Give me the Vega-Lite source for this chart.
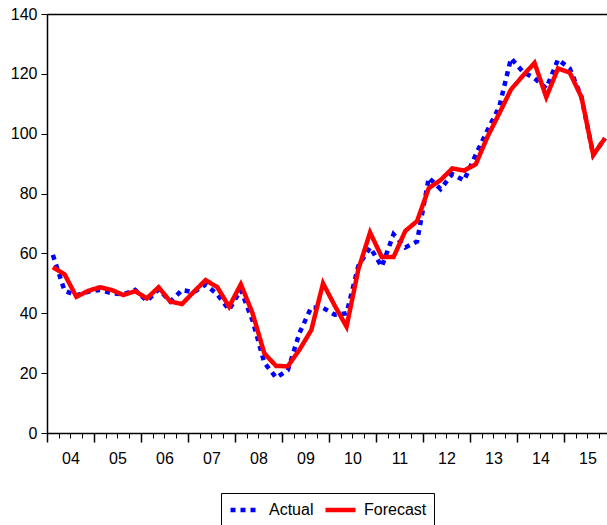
{
  "$schema": "https://vega.github.io/schema/vega-lite/v6.json",
  "autosize": {"type": "none"},
  "padding": {"left": 47, "top": 14, "right": 0, "bottom": 92},
  "width": 560,
  "height": 419,
  "background": "white",
  "config": {
    "view": {"stroke": null},
    "font": "Liberation Sans",
    "axis": {"labelFont": "Liberation Sans", "labelFontSize": 16, "labelColor": "#000", "domainColor": "#000", "tickColor": "#000", "grid": false, "title": null},
    "legend": {"labelFont": "Liberation Sans", "labelFontSize": 16, "labelColor": "#000", "layout": {"bottom": {"anchor": "middle"}}}
  },
  "data": {
    "values": [
      {"q": 0, "Actual": 59.5, "Forecast": 55.4},
      {"q": 1, "Actual": 47.5, "Forecast": 53.0},
      {"q": 2, "Actual": 46.0, "Forecast": 45.5},
      {"q": 3, "Actual": 47.2, "Forecast": 47.5},
      {"q": 4, "Actual": 47.8, "Forecast": 48.7},
      {"q": 5, "Actual": 46.7, "Forecast": 47.8},
      {"q": 6, "Actual": 46.3, "Forecast": 46.1},
      {"q": 7, "Actual": 47.8, "Forecast": 47.4},
      {"q": 8, "Actual": 44.1, "Forecast": 45.0},
      {"q": 9, "Actual": 48.0, "Forecast": 48.7},
      {"q": 10, "Actual": 43.9, "Forecast": 43.9},
      {"q": 11, "Actual": 47.8, "Forecast": 43.1},
      {"q": 12, "Actual": 47.0, "Forecast": 47.2},
      {"q": 13, "Actual": 49.6, "Forecast": 51.1},
      {"q": 14, "Actual": 46.3, "Forecast": 48.7},
      {"q": 15, "Actual": 41.2, "Forecast": 42.2},
      {"q": 16, "Actual": 47.8, "Forecast": 49.7},
      {"q": 17, "Actual": 37.5, "Forecast": 40.0},
      {"q": 18, "Actual": 23.5, "Forecast": 26.6},
      {"q": 19, "Actual": 18.5, "Forecast": 22.4},
      {"q": 20, "Actual": 21.0, "Forecast": 22.3},
      {"q": 21, "Actual": 33.5, "Forecast": 27.9},
      {"q": 22, "Actual": 42.0, "Forecast": 34.4},
      {"q": 23, "Actual": 41.8, "Forecast": 50.0},
      {"q": 24, "Actual": 39.5, "Forecast": 42.5},
      {"q": 25, "Actual": 40.0, "Forecast": 35.5},
      {"q": 26, "Actual": 55.8, "Forecast": 54.6},
      {"q": 27, "Actual": 62.0, "Forecast": 67.0},
      {"q": 28, "Actual": 55.6, "Forecast": 58.8},
      {"q": 29, "Actual": 66.4, "Forecast": 58.8},
      {"q": 30, "Actual": 62.0, "Forecast": 67.5},
      {"q": 31, "Actual": 64.0, "Forecast": 70.8},
      {"q": 32, "Actual": 85.3, "Forecast": 81.8},
      {"q": 33, "Actual": 81.5, "Forecast": 84.5},
      {"q": 34, "Actual": 86.5, "Forecast": 88.4},
      {"q": 35, "Actual": 84.4, "Forecast": 87.7},
      {"q": 36, "Actual": 93.0, "Forecast": 89.8},
      {"q": 37, "Actual": 101.2, "Forecast": 99.0},
      {"q": 38, "Actual": 109.0, "Forecast": 106.8},
      {"q": 39, "Actual": 125.2, "Forecast": 114.8},
      {"q": 40, "Actual": 120.7, "Forecast": 119.3},
      {"q": 41, "Actual": 118.5, "Forecast": 123.7},
      {"q": 42, "Actual": 115.2, "Forecast": 112.2},
      {"q": 43, "Actual": 124.8, "Forecast": 121.8},
      {"q": 44, "Actual": 121.8, "Forecast": 120.4},
      {"q": 45, "Actual": 112.2, "Forecast": 112.2},
      {"q": 46, "Actual": 92.9, "Forecast": 92.9},
      {"q": 47, "Actual": 98.5, "Forecast": 98.5}
    ]
  },
  "resolve": {"axis": {"x": "independent"}},
  "layer": [
    {
      "mark": {"type": "point", "opacity": 0},
      "encoding": {
        "x": {"field": "q", "type": "quantitative", "scale": {"domain": [-0.5, 47.17], "nice": false, "zero": false},
          "axis": {"orient": "top", "ticks": false, "labels": false, "domain": true, "domainWidth": 1.5}}
      }
    },
    {
      "mark": {"type": "point", "opacity": 0},
      "encoding": {
        "x": {"field": "q", "type": "quantitative",
          "axis": {"orient": "bottom", "values": [-0.5,0.5,1.5,2.5,3.5,4.5,5.5,6.5,7.5,8.5,9.5,10.5,11.5,12.5,13.5,14.5,15.5,16.5,17.5,18.5,19.5,20.5,21.5,22.5,23.5,24.5,25.5,26.5,27.5,28.5,29.5,30.5,31.5,32.5,33.5,34.5,35.5,36.5,37.5,38.5,39.5,40.5,41.5,42.5,43.5,44.5,45.5,46.5], "tickSize": 5, "tickWidth": 1, "labels": false, "domain": false}}
      }
    },
    {
      "mark": {"type": "point", "opacity": 0},
      "encoding": {
        "x": {"field": "q", "type": "quantitative",
          "axis": {"orient": "bottom", "values": [-0.5,3.5,7.5,11.5,15.5,19.5,23.5,27.5,31.5,35.5,39.5,43.5], "tickSize": 9, "tickWidth": 1.5, "labels": false, "domain": false}}
      }
    },
    {
      "transform": [{"fold": ["Actual", "Forecast"], "as": ["series", "value"]}],
      "mark": {"type": "line", "strokeJoin": "miter", "strokeCap": "butt"},
      "encoding": {
        "x": {"field": "q", "type": "quantitative",
          "axis": {"orient": "bottom", "values": [1.5,5.5,9.5,13.5,17.5,21.5,25.5,29.5,33.5,37.5,41.5,45.5], "ticks": false, "labelPadding": 17, "labelFlush": false, "labelOverlap": false, "labelExpr": "format((datum.value - 1.5) / 4 + 4, '02d')", "domain": true, "domainWidth": 1.5}},
        "y": {"field": "value", "type": "quantitative", "scale": {"domain": [0, 140], "nice": false},
          "axis": {"values": [0,20,40,60,80,100,120,140], "tickSize": 6, "labelPadding": 4, "domainWidth": 1.5}},
        "color": {"field": "series", "type": "nominal", "scale": {"domain": ["Actual", "Forecast"], "range": ["#0000FF", "#FF0000"]},
          "legend": {"title": null, "orient": "bottom", "direction": "horizontal", "strokeColor": "#000", "padding": 7, "offset": 27, "symbolType": "M-1,0H3", "symbolSize": 225, "symbolStrokeWidth": 4.5, "labelOffset": 21, "columnPadding": 2, "gridAlign": "none"}},
        "strokeDash": {"field": "series", "type": "nominal", "scale": {"domain": ["Actual", "Forecast"], "range": [[5, 5], [1, 0]]},
          "legend": {"title": null, "orient": "bottom", "direction": "horizontal", "strokeColor": "#000", "padding": 7, "offset": 27, "symbolType": "M-1,0H3", "symbolSize": 225, "symbolStrokeWidth": 4.5, "labelOffset": 21, "columnPadding": 2, "gridAlign": "none"}},
        "strokeWidth": {"value": 4.5}
      }
    }
  ]
}
